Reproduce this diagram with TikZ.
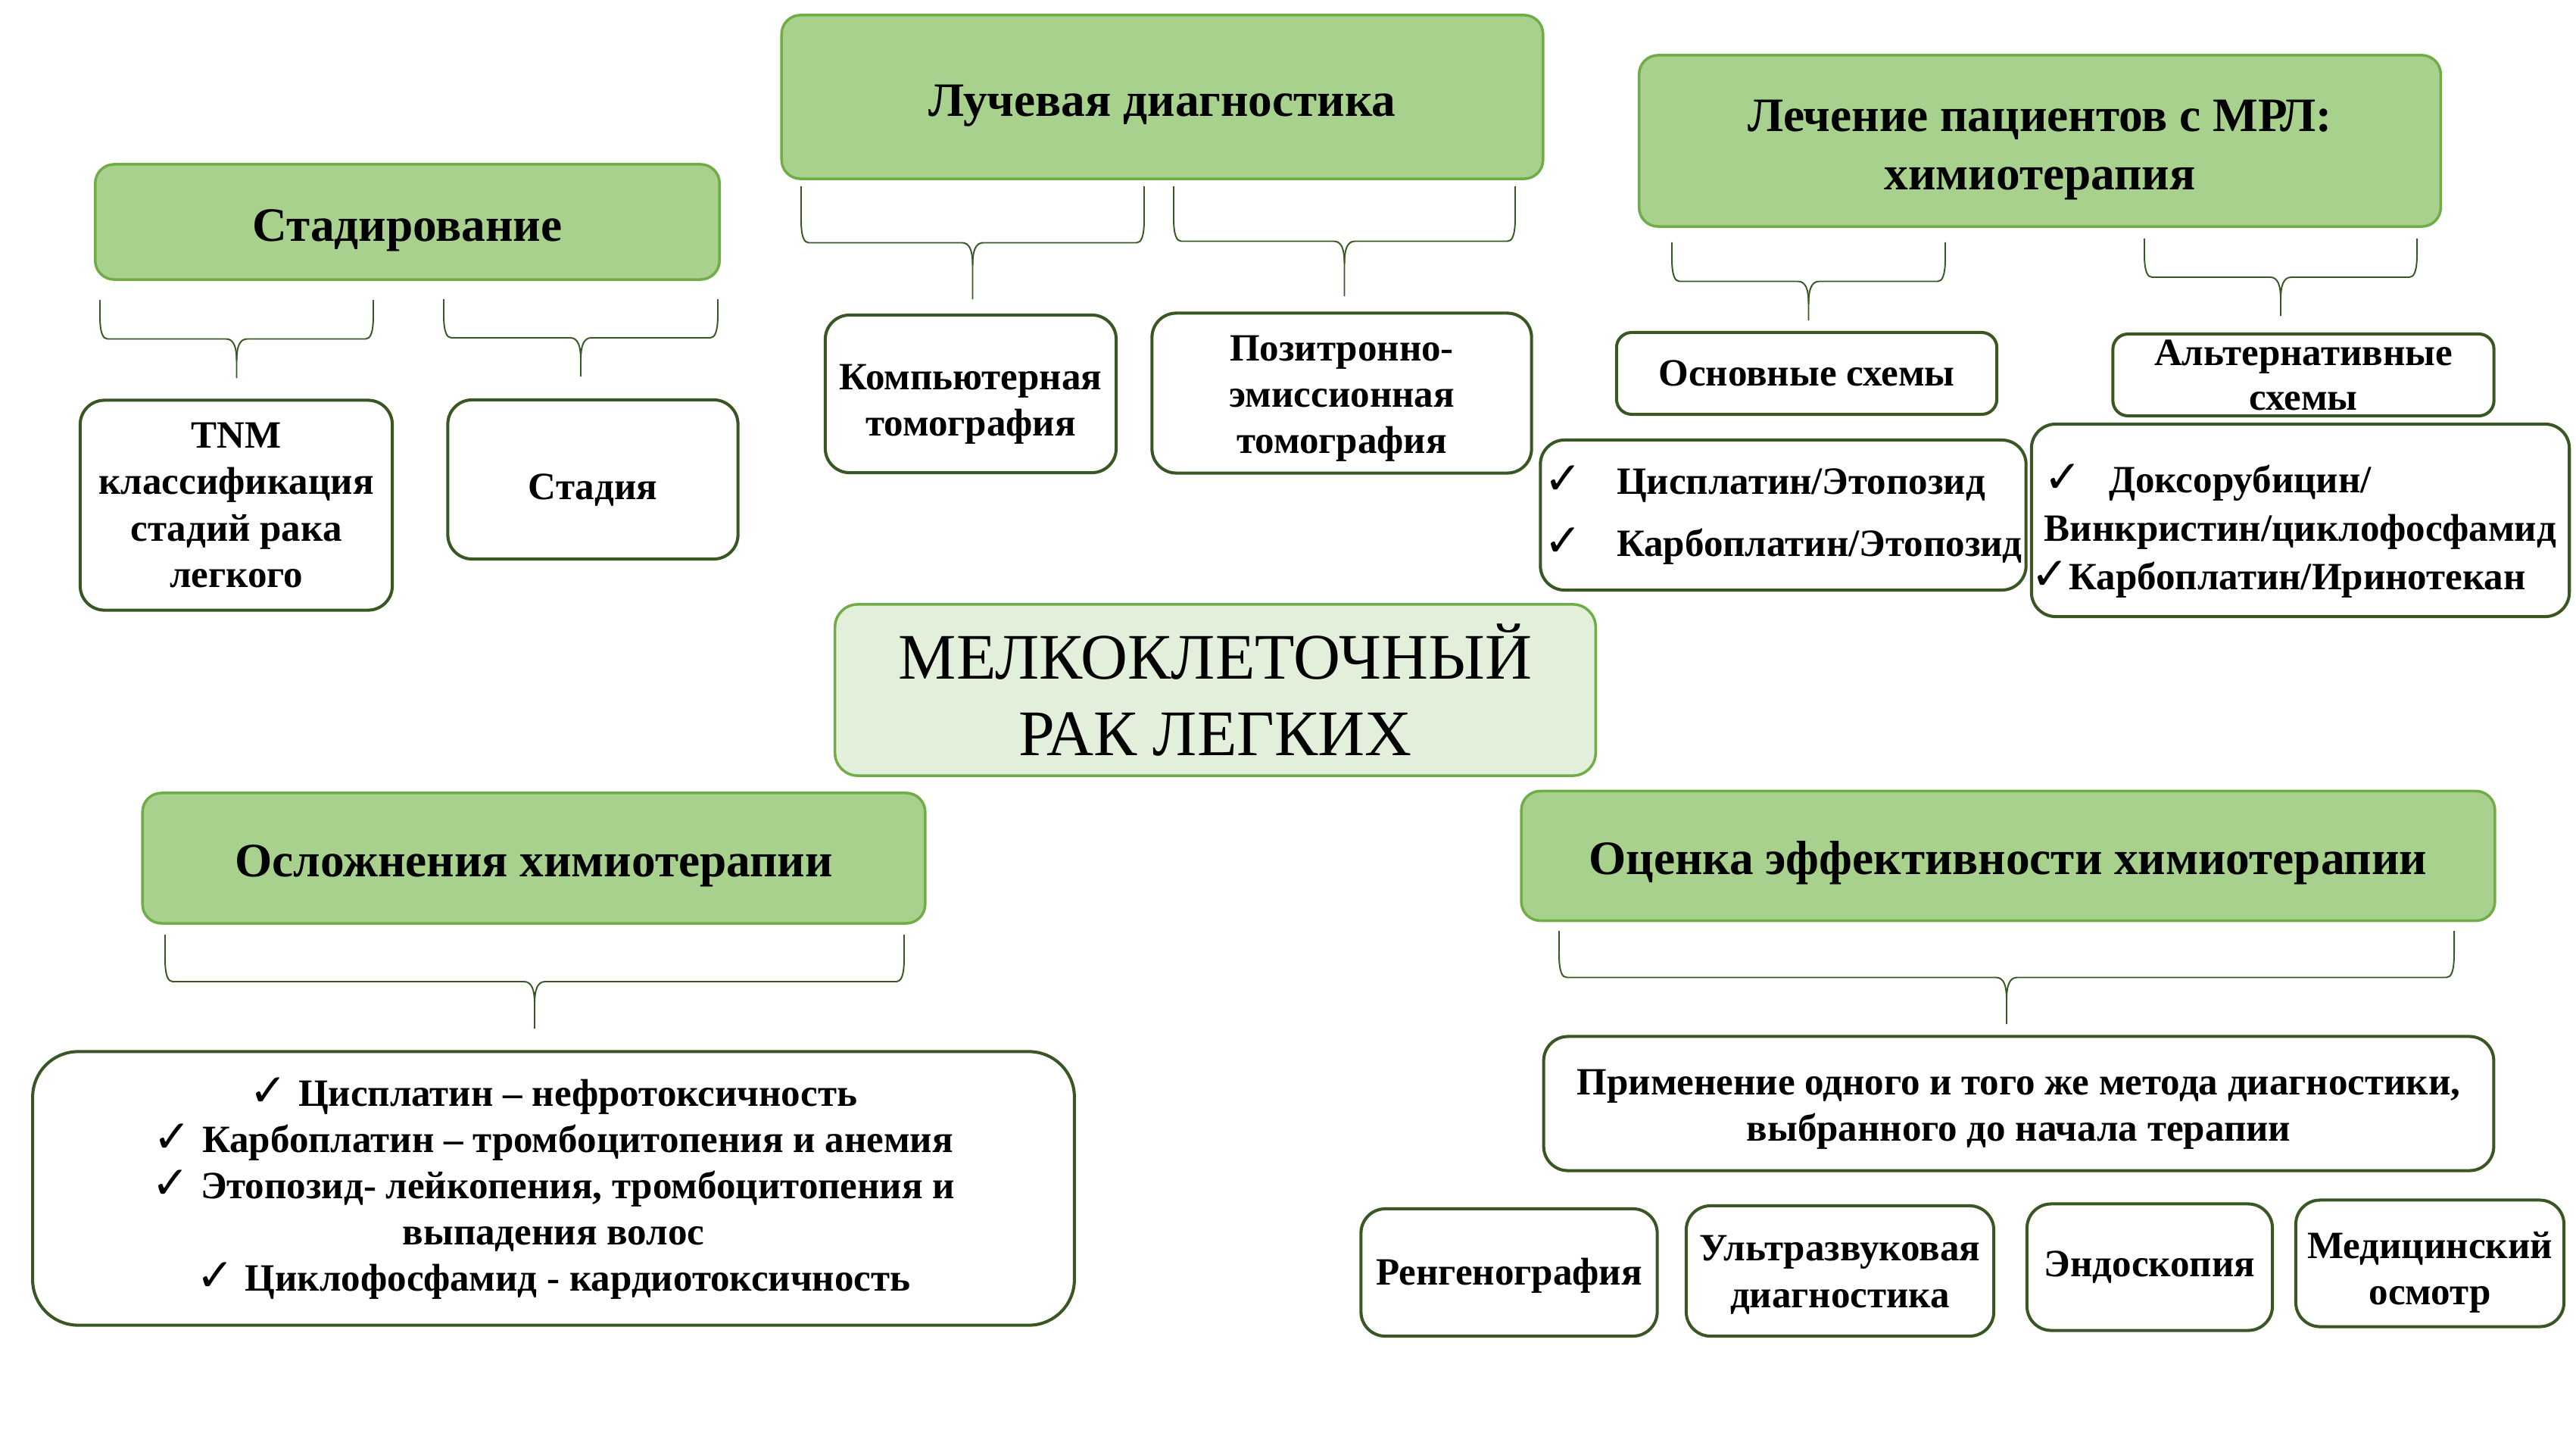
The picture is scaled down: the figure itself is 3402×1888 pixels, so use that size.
\documentclass[tikz,border=0pt]{standalone}
\usepackage{fontspec}
\setmainfont{Liberation Serif}
\newfontfamily\chkfont{DejaVu Sans}
\definecolor{hdrfill}{RGB}{169,209,142}
\definecolor{hdrline}{RGB}{112,173,71}
\definecolor{corefill}{RGB}{226,239,218}
\definecolor{boxline}{RGB}{56,87,35}
\newcommand{\chk}{{\chkfont\fontsize{17}{17}\selectfont ✓}}
%% strut for the first line of a text block
\newcommand{\topstrut}[1]{\rule{0pt}{#1}}
\tikzset{
  hdr/.style={draw=hdrline, line width=1pt, fill=hdrfill, rounded corners=0.25cm,
    inner sep=0pt, align=center, font=\fontsize{18}{22}\selectfont\bfseries},
  core/.style={draw=hdrline, line width=1pt, fill=corefill, rounded corners=0.3cm,
    inner sep=0pt, align=center, font=\fontsize{24.4}{28.5}\selectfont},
  item/.style={draw=boxline, line width=1.15pt, fill=white, rounded corners=0.32cm,
    inner sep=0pt, align=center, font=\fontsize{14.5}{17.4}\selectfont\bfseries},
  tdrop/.style={execute at begin node={\rule{0pt}{#1}}},
  forkline/.style={draw=boxline, line width=0.55pt}
}
%% bracket under a header: left x, right x, top y, bottom y
\newcommand{\fork}[4]{%
  \pgfmathsetmacro{\fxm}{(#1+#2)/2}
  \pgfmathsetmacro{\fym}{(#3+#4)/2}
  \draw[forkline] (#1,#3) -- (#1,\fym-30) .. controls (#1,\fym-8) and (#1+4,\fym) .. (#1+10,\fym)
    -- (\fxm-14,\fym) .. controls (\fxm-4,\fym) and (\fxm,\fym+10) .. (\fxm,\fym+30) -- (\fxm,#4);
  \draw[forkline] (#2,#3) -- (#2,\fym-30) .. controls (#2,\fym-8) and (#2-4,\fym) .. (#2-10,\fym)
    -- (\fxm+14,\fym) .. controls (\fxm+4,\fym) and (\fxm,\fym+10) .. (\fxm,\fym+30);
}

\begin{document}
\begin{tikzpicture}[x=0.01cm, y=-0.01cm]
  \useasboundingbox (0,0) rectangle (3402,1888);
  %% Headers
  \node[hdr, tdrop=18.5pt, minimum width=8.24cm, minimum height=1.52cm] (stad) at (538,293) {Стадирование};
  \node[hdr, tdrop=18.5pt, minimum width=10.05cm, minimum height=2.16cm] (luch) at (1535,128) {Лучевая диагностика};
  \node[hdr, minimum width=10.58cm, minimum height=2.26cm] (lech) at (2694,186)
    {\topstrut{18.5pt}Лечение пациентов с МРЛ:\\химиотерапия};
  \node[hdr, tdrop=17.5pt, minimum width=10.33cm, minimum height=1.72cm] (oslozh) at (705,1133) {Осложнения химиотерапии};
  \node[hdr, tdrop=17.5pt, minimum width=12.85cm, minimum height=1.71cm] (ocenka) at (2652,1130) {Оценка эффективности химиотерапии};
  %% Centre
  \node[core, minimum width=10.04cm, minimum height=2.26cm] (mrl) at (1605,911) {МЕЛКОКЛЕТОЧНЫЙ\\РАК ЛЕГКИХ};
  %% Staging
  \node[item, minimum width=4.12cm, minimum height=2.77cm] (tnm) at (312,667) {TNM\\классификация\\стадий рака\\легкого};
  \node[item, tdrop=17.4pt, minimum width=3.83cm, minimum height=2.10cm] (stadia) at (783,633) {Стадия};
  %% Imaging
  \node[item, minimum width=3.84cm, minimum height=2.08cm] (kt) at (1282,520)
    {\topstrut{17.4pt}Компьютерная\\томография};
  \node[item, minimum width=5.01cm, minimum height=2.11cm] (pet) at (1772,519)
    {\topstrut{13.7pt}Позитронно-\\эмиссионная\\томография};
  %% Treatment
  \node[item, rounded corners=0.2cm, minimum width=5.02cm, minimum height=1.08cm] (osn) at (2386,493) {Основные схемы};
  \node[item, rounded corners=0.2cm, minimum width=5.03cm, minimum height=1.08cm,
    font=\fontsize{14.5}{16.8}\selectfont\bfseries] (alt) at (3042,495) {Альтернативные\\схемы};
  \node[item, minimum width=6.41cm, minimum height=1.98cm, align=left,
    font=\fontsize{14.5}{23.3}\selectfont\bfseries] (osnlist) at (2355,680)
    {\chk\hspace{13pt}Цисплатин/Этопозид\\\chk\hspace{13pt}Карбоплатин/Этопозид};
  \node[item, minimum width=7.10cm, minimum height=2.54cm, align=left,
    font=\fontsize{14.5}{18.2}\selectfont\bfseries] (altlist) at (3038,687)
    {\topstrut{19pt}\chk\hspace{10pt}Доксорубицин/\\Винкристин/циклофосфамид\\\hspace*{-5pt}\chk Карбоплатин/Иринотекан};
  %% Complications
  \node[item, rounded corners=0.6cm, minimum width=13.75cm, minimum height=3.61cm] (oslist) at (731,1569)
    {\chk\hspace{4pt}Цисплатин – нефротоксичность\\
     \chk\hspace{4pt}Карбоплатин – тромбоцитопения и анемия\\
     \chk\hspace{4pt}Этопозид- лейкопения, тромбоцитопения и\\
     выпадения волос\\
     \chk\hspace{4pt}Циклофосфамид - кардиотоксичность};
  %% Response assessment
  \node[item, minimum width=12.54cm, minimum height=1.77cm] (primen) at (2666,1457)
    {\topstrut{13.7pt}Применение одного и того же метода диагностики,\\выбранного до начала терапии};
  \node[item, tdrop=12.2pt, minimum width=3.91cm, minimum height=1.68cm] (rentgen) at (1993,1680) {Ренгенография};
  \node[item, minimum width=4.06cm, minimum height=1.72cm] (uzi) at (2430,1678)
    {\topstrut{12.5pt}Ультразвуковая\\диагностика};
  \node[item, minimum width=3.24cm, minimum height=1.67cm] (endo) at (2839,1673) {Эндоскопия};
  \node[item, minimum width=3.54cm, minimum height=1.67cm] (osmotr) at (3209,1668)
    {\topstrut{16.5pt}Медицинский\\осмотр};
  %% Brackets
  \fork{132}{493}{396}{499}
  \fork{586}{948}{395}{497}
  \fork{1058}{1511}{246}{395}
  \fork{1550}{2001}{246}{391}
  \fork{2208}{2569}{320}{423}
  \fork{2832}{3192}{315}{417}
  \fork{218}{1194}{1234}{1358}
  \fork{2059}{3241}{1229}{1352}
\end{tikzpicture}
\end{document}
